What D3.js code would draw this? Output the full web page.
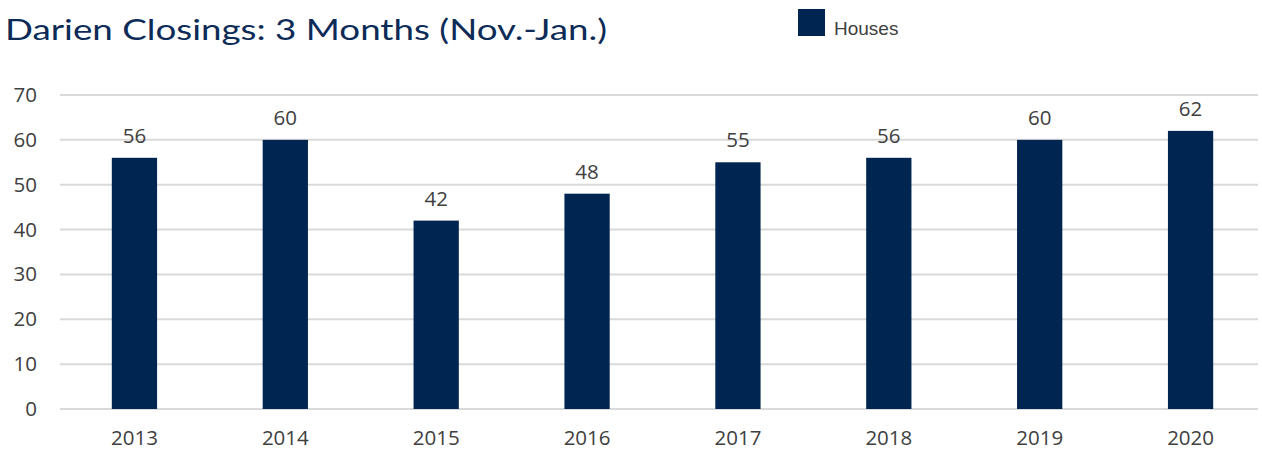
<!DOCTYPE html>
<html>
<head>
<meta charset="utf-8">
<script src="https://cdn.jsdelivr.net/npm/d3@7"></script>
<style>
  body { margin: 0; background: #fff; }
</style>
</head>
<body>
<div id="chart"></div>
<script>
/* Darien closings bar chart */

const years = ["2013", "2014", "2015", "2016", "2017", "2018", "2019", "2020"];
const houses = [56, 60, 42, 48, 55, 56, 60, 62];
const yTicks = [0, 10, 20, 30, 40, 50, 60, 70];

const width = 1262,
  height = 451,
  margin = ({ top: 95, right: 4, bottom: 42, left: 60 });

const navy = "#002551",
  textColor = "#404040",
  labelSize = 20.5;

const svg = d3.select("#chart")
  .append("svg")
  .attr("width", width)
  .attr("height", height)
  .attr("viewBox", [0, 0, width, height]);

const x = d3.scaleBand()
  .domain(years)
  .range([59, 1266])
  .paddingInner(0.7)
  .paddingOuter(0.35);

const y = d3.scaleLinear()
  .domain([0, 70])
  .range([height - margin.bottom, margin.top]);

// gridlines
svg.append("g")
  .selectAll("line")
  .data(yTicks)
  .join("line")
  .attr("x1", margin.left)
  .attr("x2", width - margin.right)
  .attr("y1", d => y(d))
  .attr("y2", d => y(d))
  .attr("stroke", "#d9d9d9")
  .attr("stroke-width", 2);

// y axis labels
const yAxis = svg.append("g")
  .attr("transform", `translate(37,0)`)
  .call(d3.axisLeft(y).tickValues(yTicks).tickSize(0).tickPadding(0));
yAxis.select(".domain").remove();
yAxis.selectAll("text")
  .attr("font-family", "'Open Sans', sans-serif")
  .attr("font-size", labelSize)
  .attr("fill", textColor);

// x axis labels
const xAxis = svg.append("g")
  .attr("transform", `translate(0,${height - margin.bottom})`)
  .call(d3.axisBottom(x).tickSize(0).tickPadding(21));
xAxis.select(".domain").remove();
xAxis.selectAll("text")
  .attr("font-family", "'Open Sans', sans-serif")
  .attr("font-size", labelSize)
  .attr("fill", textColor);

// bars
const g = svg.append("g")
  .selectAll("g")
  .data(years.map((d, i) => ({ year: d, value: houses[i] })))
  .join("g");

g.append("rect")
  .attr("x", d => x(d.year))
  .attr("width", x.bandwidth())
  .attr("y", d => y(d.value))
  .attr("height", d => y(0) - y(d.value))
  .attr("fill", navy);

g.append("text")
  .text(d => d.value)
  .attr("x", d => x(d.year) + x.bandwidth() / 2)
  .attr("y", d => y(d.value) - 15)
  .attr("text-anchor", "middle")
  .attr("font-family", "'Open Sans', sans-serif")
  .attr("font-size", labelSize)
  .attr("fill", textColor);

// title
svg.append("text")
  .text("Darien Closings: 3 Months (Nov.-Jan.)")
  .attr("x", 5)
  .attr("y", 40)
  .attr("font-family", "Lato, sans-serif")
  .attr("font-size", 29)
  .attr("textLength", 602)
  .attr("lengthAdjust", "spacingAndGlyphs")
  .attr("fill", "#0d2b57");

// legend
svg.append("rect")
  .attr("x", 798)
  .attr("y", 9)
  .attr("width", 27)
  .attr("height", 27)
  .attr("fill", navy);

svg.append("text")
  .text("Houses")
  .attr("x", 834)
  .attr("y", 35)
  .attr("font-family", "'Liberation Sans', Arial, sans-serif")
  .attr("font-size", 19)
  .attr("fill", textColor);
</script>
</body>
</html>
